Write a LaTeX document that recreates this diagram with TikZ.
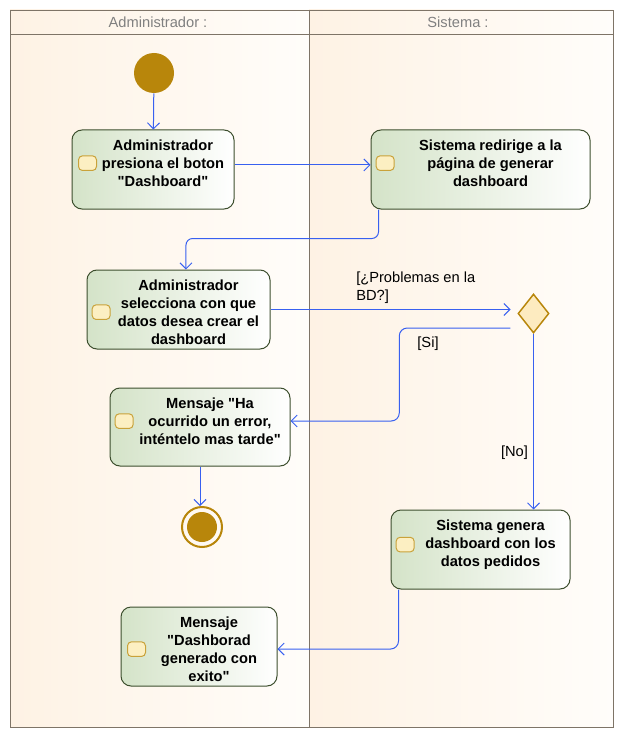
\documentclass[tikz,border=0pt]{standalone}
\usepackage{fontspec}
\setmainfont{Liberation Sans}[Ligatures=TeXOff]
\usetikzlibrary{shapes.geometric,arrows.meta,positioning,calc}
\definecolor{framecol}{RGB}{126,116,103}
\definecolor{lanecol}{RGB}{254,242,228}
\definecolor{laneend}{RGB}{255,253,250}
\definecolor{headcol}{RGB}{128,128,128}
\definecolor{actfill}{RGB}{212,227,200}
\definecolor{actline}{RGB}{61,79,46}
\definecolor{gold}{RGB}{184,134,11}
\definecolor{iconfill}{RGB}{252,239,194}
\definecolor{iconline}{RGB}{201,162,58}
\definecolor{decfill}{RGB}{253,235,192}
\definecolor{flowcol}{RGB}{56,96,240}
\tikzstyle{block} = [rectangle, draw=actline, line width=0.75pt, rounded corners=7.5pt,
    left color=actfill, right color=white, minimum height=59.25pt, inner sep=0pt]
\tikzstyle{btext} = [font=\bfseries\fontsize{11}{13.5}\selectfont, align=center, anchor=north, inner sep=0pt]
\tikzstyle{icon} = [rectangle, draw=iconline, fill=iconfill, rounded corners=3pt,
    minimum width=13.5pt, minimum height=11pt, inner sep=0pt, line width=0.75pt]
\tikzstyle{line} = [draw=flowcol, line width=0.75pt, -{Straight Barb[length=4.5pt,width=9pt]}]
\tikzstyle{guard} = [font=\fontsize{11}{13.5}\selectfont, inner sep=0pt]
\tikzstyle{head} = [font=\fontsize{11}{13.5}\selectfont, text=headcol, inner sep=0pt]

\begin{document}
\begin{tikzpicture}[x=0.75pt, y=-0.75pt]
  \useasboundingbox (0,0) rectangle (624,738);
  % Lanes
  \fill [left color=lanecol, right color=laneend] (10,10) rectangle (309,727);
  \fill [left color=lanecol, right color=laneend] (309,10) rectangle (613,727);
  \draw [framecol, line width=0.6pt] (10,10) rectangle (613,727);
  \draw [framecol, line width=0.6pt] (309,10) -- (309,727);
  \draw [framecol, line width=0.6pt] (10,34) -- (613,34);
  \node [head] (hadmin) at (158,22) {Administrador :};
  \node [head] (hsis) at (458,22) {Sistema :};

  % Place nodes
  \node [circle, fill=gold, minimum size=30pt, inner sep=0pt] (start) at (154,73) {};
  \node [block, minimum width=121.5pt] (act1) at (153,169.5) {};
  \node [block, minimum width=164.25pt] (act2) at (480.5,169.5) {};
  \node [block, minimum width=137.25pt] (act3) at (178.5,309.5) {};
  \node [diamond, draw=gold, fill=decfill, line width=1.1pt, aspect=0.8,
    minimum width=23.25pt, minimum height=29.25pt, inner sep=0pt] (dec) at (533.5,313.5) {};
  \node [block, minimum width=135pt, minimum height=58.5pt] (act4) at (200,427) {};
  \node [circle, draw=gold, line width=1.5pt, minimum size=30pt, inner sep=0pt] (fin) at (202,527) {};
  \node [circle, fill=gold, minimum size=22.5pt, inner sep=0pt] (finin) at (fin) {};
  \node [block, minimum width=134.25pt] (act5) at (480.5,549.5) {};
  \node [block, minimum width=117pt] (act6) at (199,646.5) {};

  % Texts
  \node [btext] (t1) at ([xshift=7.5pt,yshift=-7.5pt]act1.north) {Administrador\\presiona el boton\\"Dashboard"};
  \node [btext] (t2) at ([xshift=7.5pt,yshift=-7.5pt]act2.north) {Sistema redirige a la\\página de generar\\dashboard};
  \node [btext] (t3) at ([xshift=7.5pt,yshift=-7.5pt]act3.north) {Administrador\\selecciona con que\\datos desea crear el\\dashboard};
  \node [btext] (t4) at ([xshift=7.5pt,yshift=-7.5pt]act4.north) {Mensaje "Ha\\ocurrido un error,\\inténtelo mas tarde"};
  \node [btext] (t5) at ([xshift=7.5pt,yshift=-7.5pt]act5.north) {Sistema genera\\dashboard con los\\datos pedidos};
  \node [btext] (t6) at ([xshift=7.5pt,yshift=-7.5pt]act6.north) {Mensaje\\"Dashborad\\generado con\\exito"};

  % Icons
  \node [icon] (i1) at ([xshift=12pt]act1.west |- t1) {};
  \node [icon] (i2) at ([xshift=11pt]act2.west |- t2) {};
  \node [icon] (i3) at ([xshift=11pt]act3.west |- t3) {};
  \node [icon] (i4) at ([xshift=11pt]act4.west |- t4) {};
  \node [icon] (i5) at ([xshift=11pt]act5.west |- t5) {};
  \node [icon] (i6) at ([xshift=12pt]act6.west |- t6) {};

  % Draw edges
  \path [line] (start) -- (act1);
  \path [line] ([yshift=3.4pt]act1.east) -- ([yshift=3.4pt]act2.west);
  \path [line, rounded corners=5pt] ([xshift=6pt]act2.south west) -- ++(0,29) -| ([xshift=5.6pt]act3.north);
  \path [line] (act3.east) -- ([xshift=-5pt]act3.east -| dec.west);
  \coordinate (siout) at ($(dec.west)+(-7,14.5)$);
  \path [line, rounded corners=6pt] (siout) -- ++(-111,0) |- ([yshift=4.5pt]act4.east);
  \path [line] (dec.south) -- (dec.south |- act5.north);
  \path [line] (act4.south) -- (act4.south |- fin.north);
  \path [line, rounded corners=6pt] ([xshift=6pt]act5.south west) |- ([yshift=-1.9pt]act6.east);

  % Guards
  \node [guard, align=left, anchor=north west] (gprob) at (356,272) {[¿Problemas en la\\BD?]};
  \node [guard] (gsi) at (428,344) {[Si]};
  \node [guard] (gno) at (514.5,452.5) {[No]};
\end{tikzpicture}
\end{document}
